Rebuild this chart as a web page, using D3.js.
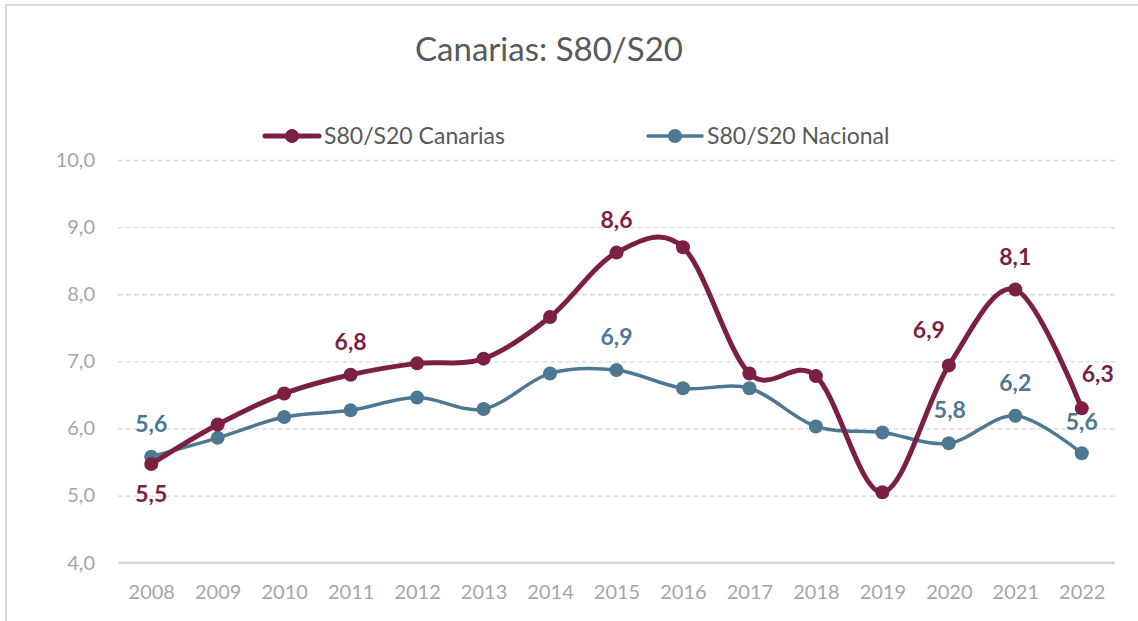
<!DOCTYPE html>
<html>
<head>
<meta charset="utf-8">
<script src="https://cdn.jsdelivr.net/npm/d3@7"></script>
<style>
  html, body { margin: 0; padding: 0; background: #fff; }
  svg { display: block; font-family: Lato, "Open Sans", sans-serif; }
</style>
</head>
<body>
<svg id="chart" width="1138" height="621"></svg>
<script>
// S80/S20 income quintile share ratio, Canarias vs. national average
const years = ["2008","2009","2010","2011","2012","2013","2014","2015","2016","2017","2018","2019","2020","2021","2022"];
const canarias = [5.47, 6.06, 6.52, 6.80, 6.97, 7.04, 7.66, 8.62, 8.70, 6.82, 6.78, 5.05, 6.94, 8.07, 6.30];
const nacional = [5.58, 5.86, 6.17, 6.27, 6.46, 6.29, 6.82, 6.87, 6.60, 6.60, 6.03, 5.94, 5.78, 6.19, 5.63];
const yTicks = [4, 5, 6, 7, 8, 9, 10];
const seriesNames = ["S80/S20 Canarias", "S80/S20 Nacional"];
// years whose value is printed next to the point
const labelledCanarias = ["2008", "2011", "2015", "2020", "2021", "2022"];
const labelledNacional = ["2008", "2015", "2020", "2021", "2022"];

const W = 1138, H = 621;
const svg = d3.select("#chart");
const fmt = v => d3.format(".1f")(v).replace(".", ",");

// frame around the chart area
svg.append("rect")
  .attr("x", 6).attr("y", 5).attr("width", W + 20).attr("height", H + 20)
  .attr("fill", "none").attr("stroke", "#d9d9d9").attr("stroke-width", 2);

const plot = { left: 118, right: 1115, top: 160, bottom: 562.7 };

const x = d3.scalePoint().domain(years).range([plot.left, plot.right]).padding(0.5);
const y = d3.scaleLinear().domain([4, 10]).range([plot.bottom, plot.top]);

// title
svg.append("text")
  .attr("x", 549).attr("y", 61)
  .attr("text-anchor", "middle")
  .attr("font-size", 33).attr("fill", "#595959")
  .text("Canarias: S80/S20");

// gridlines
const grid = svg.append("g")
  .attr("transform", `translate(${plot.left},0)`)
  .call(d3.axisLeft(y).tickValues(yTicks.filter(t => t > 4)).tickSize(-(plot.right - plot.left)).tickFormat(""));
grid.select(".domain").remove();
grid.selectAll("line")
  .attr("stroke", "#d9d9d9").attr("stroke-width", 1.3).attr("stroke-dasharray", "5,3");

// y axis labels
const yAxis = svg.append("g")
  .attr("transform", `translate(${plot.left - 8},0)`)
  .call(d3.axisLeft(y).tickValues(yTicks).tickSize(0).tickPadding(15).tickFormat(fmt));
yAxis.select(".domain").remove();
yAxis.selectAll("text")
  .attr("font-family", "Lato, sans-serif").attr("font-size", 20).attr("fill", "#a6a6a6");

// x axis
const xAxis = svg.append("g")
  .attr("transform", `translate(0,${plot.bottom})`)
  .call(d3.axisBottom(x).tickSize(0).tickPadding(22));
xAxis.select(".domain").attr("stroke", "#d9d9d9").attr("stroke-width", 2.5)
  .attr("d", `M${plot.left},0H${plot.right}`);
xAxis.selectAll("text")
  .attr("font-family", "Lato, sans-serif").attr("font-size", 20).attr("fill", "#a6a6a6");

const series = [
  { name: seriesNames[0], values: canarias, color: "#7b1f45", width: 5, labelled: labelledCanarias },
  { name: seriesNames[1], values: nacional, color: "#4e7891", width: 3.5, labelled: labelledNacional }
];

const line = d3.line()
  .x((d, i) => x(years[i]))
  .y(d => y(d))
  .curve(d3.curveCatmullRom.alpha(0));

// Nacional drawn first so the Canarias line sits on top where they cross
[series[1], series[0]].forEach(s => {
  const g = svg.append("g");
  g.append("path")
    .attr("d", line(s.values))
    .attr("fill", "none")
    .attr("stroke", s.color)
    .attr("stroke-width", s.width)
    .attr("stroke-linejoin", "round");
  g.selectAll("circle")
    .data(s.values)
    .join("circle")
    .attr("cx", (d, i) => x(years[i]))
    .attr("cy", d => y(d))
    .attr("r", 7)
    .attr("fill", s.color);
});

// data label placement (dx, dy relative to the point)
const placement = {
  "S80/S20 Canarias": {
    "2008": [0, 38], "2011": [0, -25], "2015": [0, -25],
    "2020": [-20, -27], "2021": [0, -25], "2022": [16, -26]
  },
  "S80/S20 Nacional": {
    "2008": [0, -25], "2015": [0, -25], "2020": [1, -25],
    "2021": [0, -25], "2022": [0, -23]
  }
};

series.forEach(s => {
  svg.append("g").selectAll("text")
    .data(s.labelled)
    .join("text")
    .attr("x", yr => x(yr) + placement[s.name][yr][0])
    .attr("y", yr => y(s.values[years.indexOf(yr)]) + placement[s.name][yr][1])
    .attr("text-anchor", "middle")
    .attr("font-size", 23).attr("font-weight", "bold")
    .attr("fill", s.color)
    .text(yr => fmt(s.values[years.indexOf(yr)]));
});

// legend
const legendItems = [
  { s: series[0], x0: 265 },
  { s: series[1], x0: 648 }
];
legendItems.forEach(({ s, x0 }) => {
  const g = svg.append("g").attr("transform", `translate(${x0},136)`);
  g.append("line")
    .attr("x1", 0).attr("x2", 54).attr("y1", 0).attr("y2", 0)
    .attr("stroke", s.color).attr("stroke-width", s.width).attr("stroke-linecap", "round");
  g.append("circle").attr("cx", 27).attr("cy", 0).attr("r", 7).attr("fill", s.color);
  g.append("text")
    .attr("x", 59).attr("y", 8)
    .attr("font-size", 23).attr("fill", "#595959")
    .text(s.name);
});
</script>
</body>
</html>
